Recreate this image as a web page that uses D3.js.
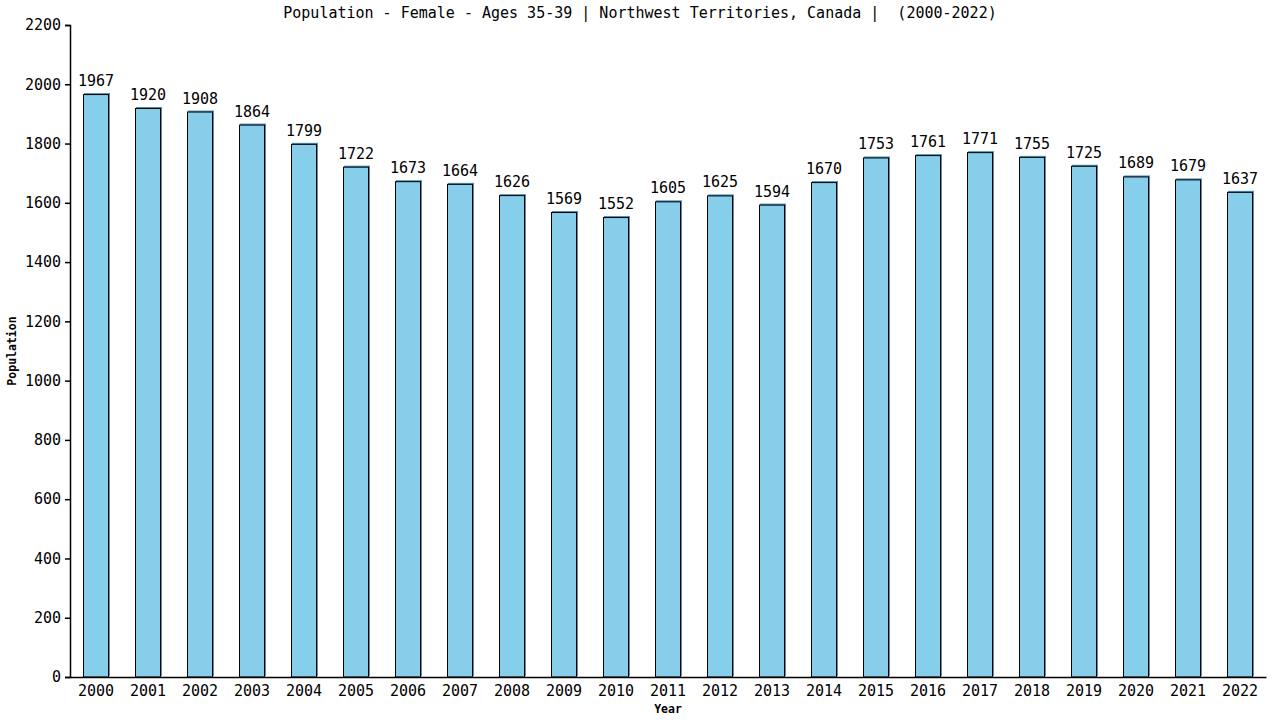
<!DOCTYPE html>
<html>
<head>
    <meta charset="UTF-8">
    <title>Population - Female - Ages 35-39</title>
    <script type="text/javascript" src="https://d3js.org/d3.v7.min.js"></script>
    <style>
        body { margin: 0; background: #fff; }
        text { font-family: "DejaVu Sans Mono", monospace; fill: #000; }
    </style>
</head>
<body>
    <svg id="chart" width="1280" height="720"></svg>
    <script>
        // data
        const years = ["2000", "2001", "2002", "2003", "2004", "2005", "2006", "2007", "2008", "2009", "2010", "2011",
            "2012", "2013", "2014", "2015", "2016", "2017", "2018", "2019", "2020", "2021", "2022"];
        const population = [1967, 1920, 1908, 1864, 1799, 1722, 1673, 1664, 1626, 1569, 1552, 1605,
            1625, 1594, 1670, 1753, 1761, 1771, 1755, 1725, 1689, 1679, 1637];
        const yTicks = [0, 200, 400, 600, 800, 1000, 1200, 1400, 1600, 1800, 2000, 2200];

        const margin = { top: 25, right: 14, bottom: 43, left: 70 };
        const w = 1280 - margin.left - margin.right;
        const h = 720 - margin.top - margin.bottom;

        const svg = d3.select("#chart");
        const g = svg.append("g")
            .attr("transform", "translate(" + margin.left + "," + margin.top + ")");

        const x = d3.scaleBand()
            .domain(years)
            .range([0, w])
            .paddingInner(0.5)
            .paddingOuter(0.25);
        const y = d3.scaleLinear()
            .domain([0, 2200])
            .range([h, 0]);

        // bars: a thin steel blue shadow under the outlined bar
        const data = years.map((yr, i) => ({ year: yr, value: population[i] }));

        g.selectAll(".shadow")
            .data(data)
            .join("rect")
            .attr("class", "shadow")
            .attr("x", d => x(d.year) + 1)
            .attr("y", d => y(d.value) - 1)
            .attr("width", x.bandwidth())
            .attr("height", d => h - y(d.value))
            .attr("fill", "#4f8fb3");

        g.selectAll(".bar")
            .data(data)
            .join("rect")
            .attr("class", "bar")
            .attr("x", d => x(d.year) + 0.5)
            .attr("y", d => y(d.value) + 0.5)
            .attr("width", x.bandwidth() - 1)
            .attr("height", d => h - y(d.value) - 0.5)
            .attr("fill", "#87ceeb")
            .attr("stroke", "#000")
            .attr("stroke-width", 1);

        // value labels
        g.selectAll(".val")
            .data(data)
            .join("text")
            .attr("class", "val")
            .attr("x", d => x(d.year) + x.bandwidth() / 2)
            .attr("y", d => y(d.value) - 8)
            .attr("text-anchor", "middle")
            .style("font-size", "15px")
            .text(d => d.value);

        // axes
        const yAxis = g.append("g")
            .call(d3.axisLeft(y).tickValues(yTicks).tickFormat(d3.format("d")).tickSize(5).tickPadding(4));
        yAxis.selectAll("text").style("font-size", "15px").style("font-family", "DejaVu Sans Mono, monospace");
        yAxis.selectAll("line, path").attr("stroke", "#000").attr("stroke-width", 1.5);

        const xAxis = g.append("g")
            .attr("transform", "translate(0," + h + ")")
            .call(d3.axisBottom(x).tickSize(0).tickPadding(8).tickSizeOuter(0));
        xAxis.selectAll("text").style("font-size", "15px").style("font-family", "DejaVu Sans Mono, monospace");
        xAxis.select("path").attr("stroke", "#000").attr("stroke-width", 1.5);

        // titles
        svg.append("text")
            .attr("x", 640)
            .attr("y", 18)
            .attr("text-anchor", "middle")
            .style("font-size", "15px")
            .style("white-space", "pre")
            .attr("xml:space", "preserve")
            .text("Population - Female - Ages 35-39 | Northwest Territories, Canada |  (2000-2022)");

        svg.append("text")
            .attr("x", margin.left + w / 2)
            .attr("y", 713)
            .attr("text-anchor", "middle")
            .style("font-size", "11.5px")
            .style("font-weight", "bold")
            .text("Year");

        svg.append("text")
            .attr("transform", "translate(16," + (margin.top + h / 2) + ") rotate(-90)")
            .attr("text-anchor", "middle")
            .style("font-size", "11.5px")
            .style("font-weight", "bold")
            .text("Population");
    </script>
</body>
</html>
